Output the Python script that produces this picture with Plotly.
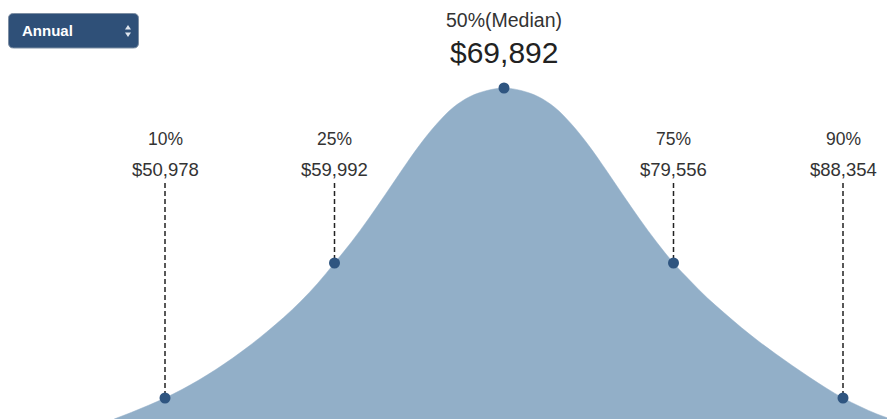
import plotly.graph_objects as go

# ---- data ----
# curve: x in percentile-slot units (10%=0, 25%=1, 50%=2, 75%=3, 90%=4), y = relative density height
curve_x = [-0.3, -0.2, -0.1, 0.0, 0.1, 0.2, 0.3, 0.4, 0.5, 0.6, 0.7, 0.8, 0.9,
           1.0, 1.1, 1.2, 1.3, 1.4, 1.5, 1.6, 1.7, 1.8, 1.9,
           2.0, 2.1, 2.2, 2.3, 2.4, 2.5, 2.6, 2.7, 2.8, 2.9,
           3.0, 3.1, 3.2, 3.3, 3.4, 3.5, 3.6, 3.7, 3.8, 3.9,
           4.0, 4.1, 4.2, 4.3]
curve_y = [0, 6.5, 13.5, 21, 29.5, 39, 49.5, 61, 73.5, 87, 101.5, 117.5, 135.5,
           156, 177, 200, 224.5, 249.5, 273.5, 294.5, 311.5, 322.5, 328.5,
           331, 328.5, 322.5, 311.5, 294.5, 273.5, 249.5, 224.5, 200, 177,
           156, 138, 121, 106, 91.5, 78, 65.5, 53.5, 42, 31,
           21, 12.5, 5, -1]

pct_labels = ["10%", "25%", "50%(Median)", "75%", "90%"]
pct_pos = [0, 1, 2, 3, 4]
salaries = [50978, 59992, 69892, 79556, 88354]
pct_height = [21, 156, 331, 156, 21]

dropdown_label = "Annual"

# ---- layout constants ----
W, H = 887, 419
X0 = 2 - 504 / 169.5
X1 = 2 + 383 / 169.5
FILL = "#92afc8"
DOT = "#2f5580"
TXT = "#333333"
FONT = "Liberation Sans, Arial, Helvetica, sans-serif"

def px(x):
    return x / W

def py(y):
    return 1 - y / H

fig = go.Figure()
fig.add_trace(go.Scatter(
    x=curve_x, y=curve_y, mode="lines", fill="tozeroy",
    fillcolor=FILL, line=dict(color=FILL, width=0.5, shape="spline", smoothing=1.0),
    hoverinfo="skip", showlegend=False))

shapes = []
annotations = []

def label(x, ypix, text, size, color, xref="x", xanchor="center"):
    annotations.append(dict(x=x, y=py(ypix), xref=xref, yref="paper", text=text,
                            xanchor=xanchor, yanchor="middle", showarrow=False,
                            font=dict(size=size, color=color, family=FONT)))

for lab, p, s, h in zip(pct_labels, pct_pos, salaries, pct_height):
    money = "${:,}".format(s)
    if lab.startswith("50%"):
        label(p, 20, lab, 19.5, TXT)
        label(p, 53, money, 30, "#222222")
    else:
        label(p, 139, lab, 17.5, TXT)
        label(p, 169, money, 18.5, TXT)
        shapes.append(dict(type="line", xref="x", yref="y", x0=p, x1=p,
                           y0=H - 183, y1=h,
                           line=dict(color="#222222", width=1.5, dash="5px,3px"), layer="below"))

fig.add_trace(go.Scatter(
    x=pct_pos, y=pct_height, mode="markers",
    marker=dict(size=11, color=DOT), hoverinfo="skip", showlegend=False))

# dropdown-like control (rounded box)
bx0, by0, bx1, by1, r = 8.5, 13.5, 138.5, 48, 5
path = (f"M {px(bx0+r)},{py(by0)} L {px(bx1-r)},{py(by0)} "
        f"Q {px(bx1)},{py(by0)} {px(bx1)},{py(by0+r)} L {px(bx1)},{py(by1-r)} "
        f"Q {px(bx1)},{py(by1)} {px(bx1-r)},{py(by1)} L {px(bx0+r)},{py(by1)} "
        f"Q {px(bx0)},{py(by1)} {px(bx0)},{py(by1-r)} L {px(bx0)},{py(by0+r)} "
        f"Q {px(bx0)},{py(by0)} {px(bx0+r)},{py(by0)} Z")
shapes.append(dict(type="path", xref="paper", yref="paper", path=path,
                   fillcolor="#2f5078", line=dict(color="#7d8ea3", width=1), layer="above"))
ax = 128
shapes.append(dict(type="path", xref="paper", yref="paper",
                   path=f"M {px(ax-3)},{py(29.5)} L {px(ax+3)},{py(29.5)} L {px(ax)},{py(25)} Z",
                   fillcolor="#dfe6ee", line=dict(width=0), layer="above"))
shapes.append(dict(type="path", xref="paper", yref="paper",
                   path=f"M {px(ax-3)},{py(32.5)} L {px(ax+3)},{py(32.5)} L {px(ax)},{py(37)} Z",
                   fillcolor="#dfe6ee", line=dict(width=0), layer="above"))
label(px(20), 31, "<b>" + dropdown_label + "</b>", 15, "white", xref="paper", xanchor="left")

fig.update_layout(
    width=W, height=H, margin=dict(l=0, r=0, t=0, b=0),
    paper_bgcolor="white", plot_bgcolor="white",
    xaxis=dict(range=[X0, X1], visible=False, fixedrange=True),
    yaxis=dict(range=[0, H], visible=False, fixedrange=True),
    shapes=shapes, annotations=annotations, showlegend=False)

fig.write_html("out.html", config={"displayModeBar": False},
               post_script="document.body.style.margin='0';document.body.style.overflow='hidden';")
